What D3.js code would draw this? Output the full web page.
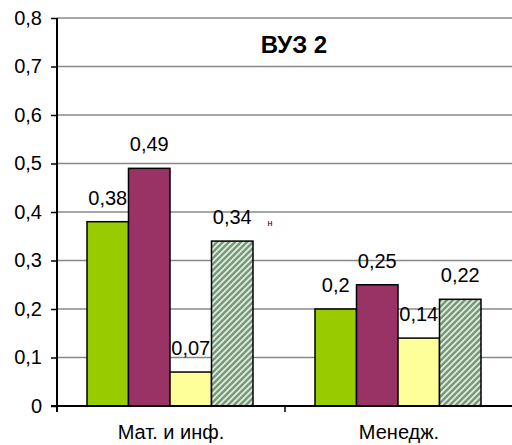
<!DOCTYPE html>
<html><head><meta charset="utf-8">
<script src="https://cdn.jsdelivr.net/npm/d3@7"></script>
<style>
html,body{margin:0;padding:0;background:#fff;}
svg{display:block;font-family:Arial,"Liberation Sans",sans-serif;}
</style></head>
<body>
<script>
const categories = ["Мат. и инф.", "Менедж."];
const seriesNames = ["s1", "s2", "s3", "s4"];
const s1 = [0.38, 0.20];
const s2 = [0.49, 0.25];
const s3 = [0.07, 0.14];
const s4 = [0.34, 0.22];
const valueLabels = [["0,38","0,49","0,07","0,34"],["0,2","0,25","0,14","0,22"]];
const yTicks = [0,0.1,0.2,0.3,0.4,0.5,0.6,0.7,0.8];
const yTickLabels = ["0","0,1","0,2","0,3","0,4","0,5","0,6","0,7","0,8"];
const title = "ВУЗ 2";
const colors = ["#99cc00","#993366","#ffff99","url(#hatch)"];
const seriesData = [s1,s2,s3,s4];

const W=512,H=445;
const svg=d3.select("body").append("svg").attr("width",W).attr("height",H);
const defs=svg.append("defs");
const pat=defs.append("pattern").attr("id","hatch").attr("patternUnits","userSpaceOnUse")
  .attr("width",6).attr("height",6);
pat.append("rect").attr("width",6).attr("height",6).attr("fill","#ccffcc");
pat.append("path").attr("d","M-1,7 L7,-1 M-4,4 L4,-4 M2,10 L10,2").attr("stroke","#8c8c8c").attr("stroke-width",2.6);

const x=d3.scaleBand().domain(categories).range([57,513]).padding(0);
const xs=d3.scaleBand().domain(seriesNames).range([30,196]).padding(0);
const y=d3.scaleLinear().domain([0,0.8]).range([406,18]);

// gridlines
svg.append("g").selectAll("line").data(yTicks.filter(d=>d>0)).join("line")
  .attr("x1",57).attr("x2",513).attr("y1",d=>y(d)).attr("y2",d=>y(d))
  .attr("stroke","#888").attr("stroke-width",1.5);

// title
svg.append("text").attr("x",294).attr("y",53).attr("text-anchor","middle")
  .attr("font-size",24).attr("font-weight","bold").text(title);

// bars
const groups=svg.append("g").selectAll("g").data(categories).join("g")
  .attr("transform",d=>`translate(${x(d)},0)`);
groups.each(function(cat,ci){
  const g=d3.select(this);
  seriesNames.forEach((s,si)=>{
    const v=seriesData[si][ci];
    g.append("rect").attr("x",xs(s)).attr("y",y(v)).attr("width",xs.bandwidth())
      .attr("height",y(0)-y(v)).attr("fill",colors[si]).attr("stroke","#000").attr("stroke-width",1.5);
  });
});

// y axis
const yAxis=d3.axisLeft(y).tickValues(yTicks).tickFormat((d,i)=>yTickLabels[i]).tickSize(6).tickPadding(9);
const ya=svg.append("g").attr("transform","translate(57,0)").call(yAxis);
ya.select(".domain").attr("stroke","#000").attr("stroke-width",2).attr("d","M0,18V412");
ya.selectAll(".tick line").attr("stroke","#000").attr("stroke-width",1.5);
ya.selectAll(".tick text").attr("font-size",20).attr("font-family","Arial,'Liberation Sans',sans-serif").attr("fill","#000");

// x axis
svg.append("line").attr("x1",51).attr("x2",513).attr("y1",406).attr("y2",406).attr("stroke","#000").attr("stroke-width",2);
svg.append("g").selectAll("line").data([x(categories[1])]).join("line")
  .attr("x1",d=>d).attr("x2",d=>d).attr("y1",406).attr("y2",412).attr("stroke","#000").attr("stroke-width",1.5);
svg.append("g").selectAll("text").data(categories).join("text")
  .attr("x",d=>x(d)+x.bandwidth()/2).attr("y",439).attr("text-anchor","middle")
  .attr("font-size",20).text(d=>d);

// value labels
groups.each(function(cat,ci){
  const g=d3.select(this);
  seriesNames.forEach((s,si)=>{
    const v=seriesData[si][ci];
    g.append("text").attr("x",xs(s)+xs.bandwidth()/2).attr("y",y(v)-17)
      .attr("text-anchor","middle").attr("font-size",20).text(valueLabels[ci][si]);
  });
});
// stray small label
svg.append("text").attr("x",270).attr("y",226).attr("text-anchor","middle").attr("font-size",9).text("н");
</script>
</body></html>
